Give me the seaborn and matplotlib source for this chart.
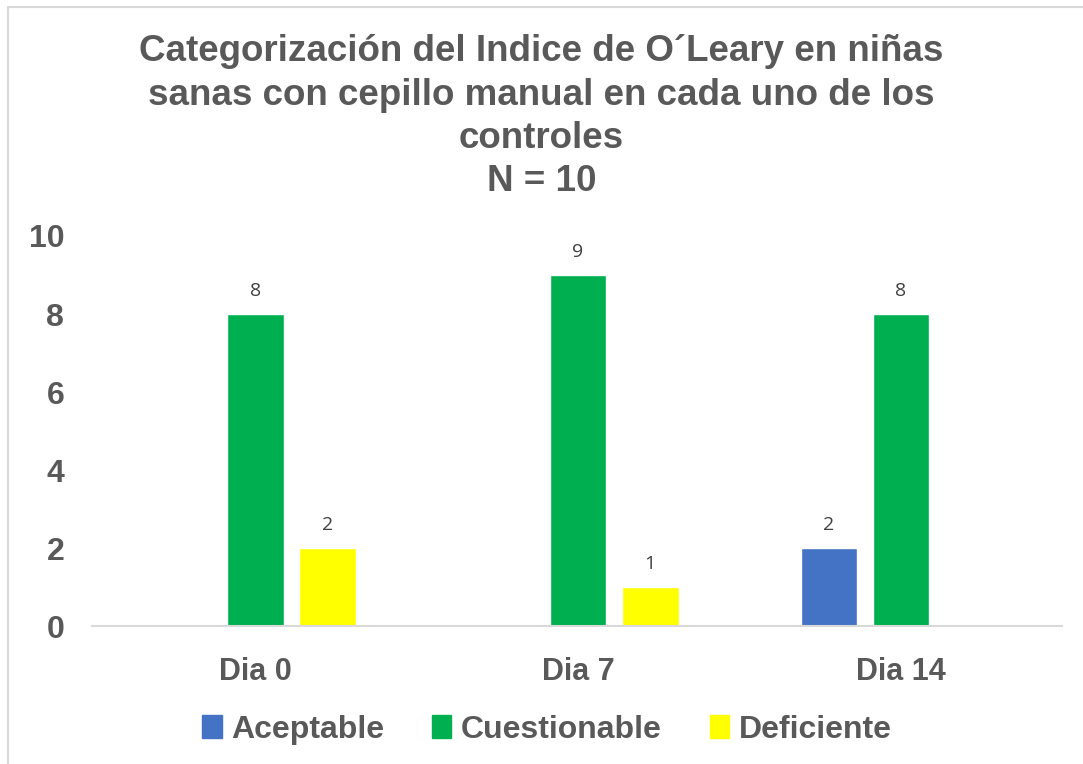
import pandas as pd
import numpy as np
import matplotlib.pyplot as plt
import seaborn as sns
from matplotlib.lines import Line2D

dias = ["Dia 0", "Dia 7", "Dia 14"]
categorias = ["Aceptable", "Cuestionable", "Deficiente"]
aceptable = [0, 0, 2]
cuestionable = [8, 9, 8]
deficiente = [2, 1, 0]
colores = ["#4472C4", "#00B050", "#FFFF00"]
titulo = "Categorización del Indice de O´Leary en niñas\nsanas con cepillo manual en cada uno de los\ncontroles\nN = 10"

df = pd.DataFrame({"dia": dias * 3,
                   "categoria": np.repeat(categorias, 3),
                   "valor": aceptable + cuestionable + deficiente})

sns.set_theme(style="white")
plt.rcParams['font.family'] = ['Liberation Sans', 'DejaVu Sans']
gris = "#595959"

fig = plt.figure(figsize=(10.83, 7.64), dpi=100)
ax = fig.add_axes([0.085, 0.1806, 0.896, 0.5105])

sns.barplot(data=df, x="dia", y="valor", hue="categoria", order=dias,
            hue_order=categorias, palette=colores, width=0.669, gap=0.21,
            saturation=1, ax=ax, legend=False)

# etiquetas solo en barras con valor
for cont in ax.containers:
    for bar in cont:
        h = bar.get_height()
        if h > 0:
            ax.text(bar.get_x() + bar.get_width() / 2, h + 0.35, f"{int(h)}",
                    ha="center", va="bottom", fontsize=14, color="#404040",
                    family=['Open Sans', 'DejaVu Sans'])

ax.set_ylim(0, 10)
ax.set_xlim(-0.505, 2.5)
ax.set_yticks(range(0, 11, 2))
ax.set_xlabel("")
ax.set_ylabel("")
for s in ["top", "right", "left"]:
    ax.spines[s].set_visible(False)
ax.spines["bottom"].set_color("#D9D9D9")
ax.spines["bottom"].set_linewidth(1.5)
ax.tick_params(axis="x", length=0, labelsize=22, colors=gris, pad=22)
ax.tick_params(axis="y", length=0, labelsize=23, colors=gris, pad=20)
for lbl in ax.get_xticklabels() + ax.get_yticklabels():
    lbl.set_fontweight("bold")

fig.text(0.5, 0.955, titulo, ha="center", va="top", fontsize=26.5,
         fontweight="bold", color=gris, linespacing=1.31)

handles = [plt.Rectangle((0, 0), 1, 1, color=c) for c in colores]
leg = fig.legend(handles, categorias, loc="center", bbox_to_anchor=(0.505, 0.045),
                 ncol=3, frameon=False, handlelength=0.6, handleheight=0.7,
                 handletextpad=0.3, columnspacing=1.5,
                 prop={"size": 23, "weight": "bold"})
for t in leg.get_texts():
    t.set_color(gris)

# borde del grafico
fig.add_artist(Line2D([8 / 1083, 1], [1 - 7 / 764, 1 - 7 / 764], color="#D9D9D9", lw=1.5))
fig.add_artist(Line2D([8 / 1083, 8 / 1083], [0, 1 - 7 / 764], color="#D9D9D9", lw=1.5))

fig.savefig("out.png", dpi=100)
